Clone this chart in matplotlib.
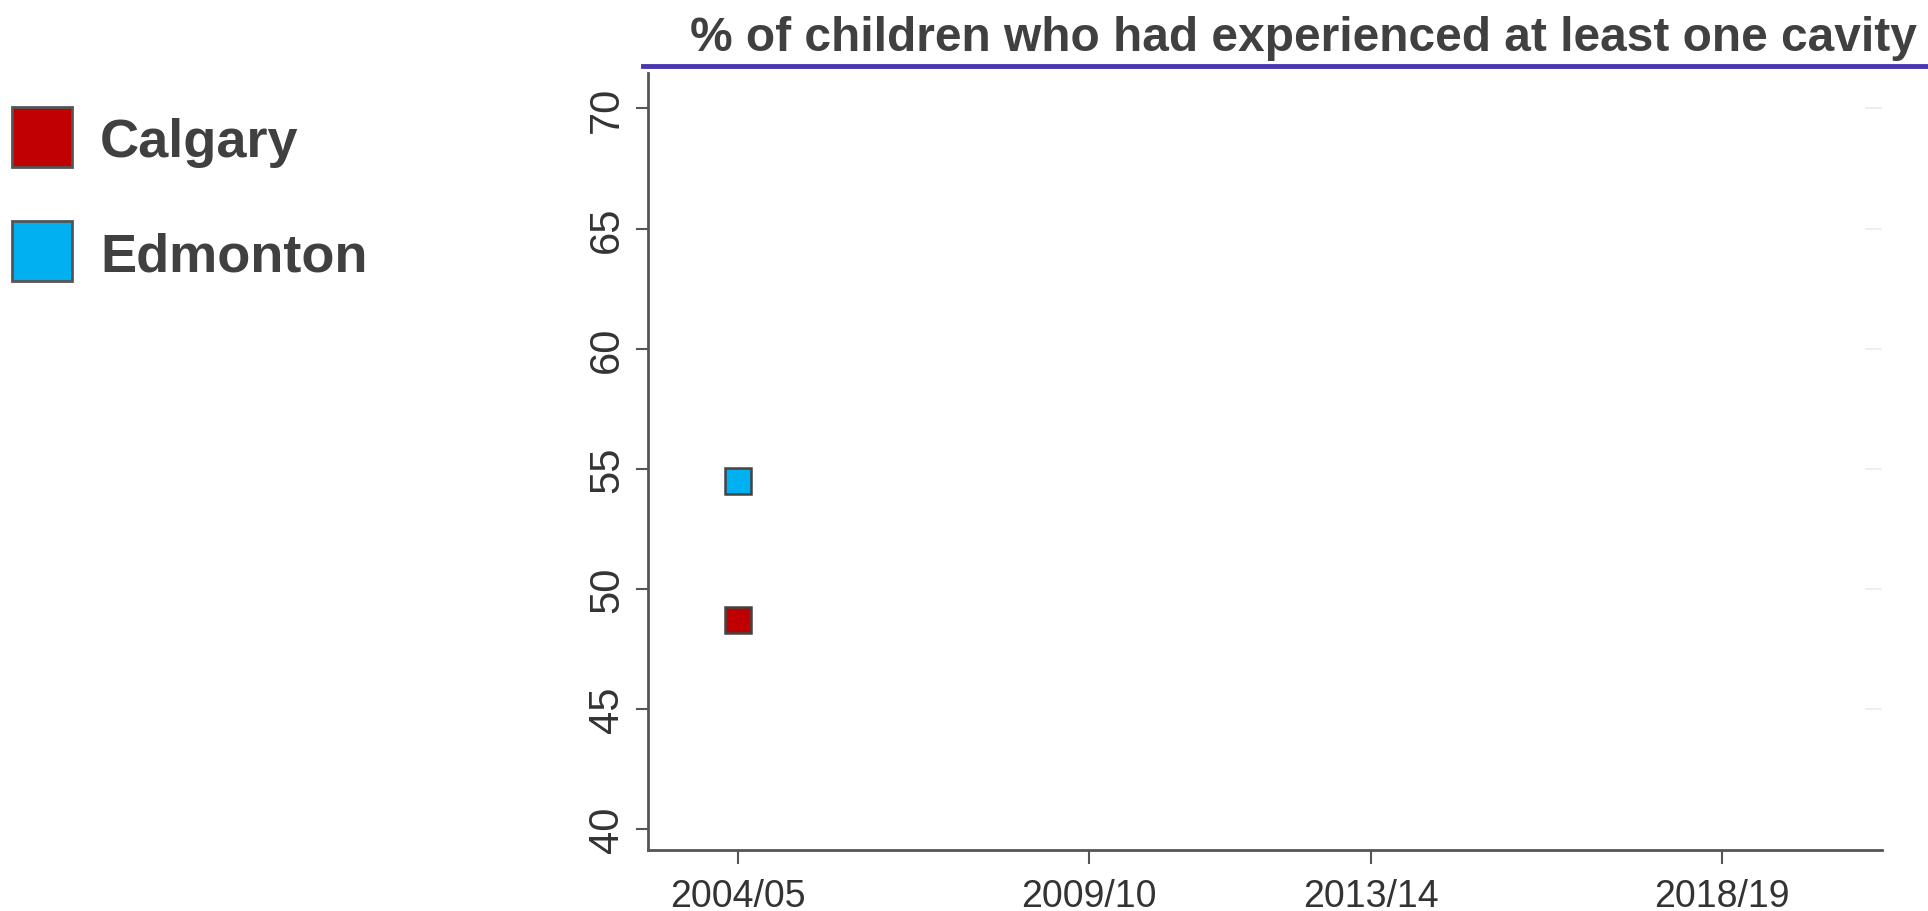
import matplotlib.pyplot as plt
from matplotlib.lines import Line2D

years = ['2004/05', '2009/10', '2013/14', '2018/19']
year_pos = [2004, 2009, 2013, 2018]

cities = ['Calgary', 'Edmonton']
city_colors = ['#C00000', '#00B0F0']
city_x = [[2004], [2004]]
city_pct = [[48.7], [54.5]]

plt.rcParams['font.family'] = ['Liberation Sans', 'DejaVu Sans']

fig = plt.figure(figsize=(19.28, 9.12), dpi=100)
ax = fig.add_axes([0.336, 0.067, 0.64, 0.852])

for name, col, xs, ys in zip(cities, city_colors, city_x, city_pct):
    ax.plot(xs, ys, 's', ms=19, mfc=col, mec='#444444', mew=1.8, label=name)

ax.set_xlim(2002.72, 2020.27)
ax.set_ylim(39.13, 71.48)
ax.set_xticks(year_pos)
ax.set_xticklabels(years)
ax.set_yticks([40, 45, 50, 55, 60, 65, 70])
ax.tick_params(axis='x', labelsize=27, colors='#555555', labelcolor='#333333', length=10, width=1.5, pad=10)
ax.tick_params(axis='y', labelsize=30, colors='#555555', labelcolor='#333333', length=9, width=1.5, pad=6)
for lab in ax.get_yticklabels():
    lab.set_rotation(90)
    lab.set_va('center')
for s in ['top', 'right']:
    ax.spines[s].set_visible(False)
for s in ['left', 'bottom']:
    ax.spines[s].set_color('#555555')
    ax.spines[s].set_linewidth(2)

# faint ticks on the right side
ax2 = ax.twinx()
ax2.set_ylim(ax.get_ylim())
ax2.set_yticks([45, 50, 55, 60, 65, 70])
ax2.tick_params(axis='y', direction='in', length=12, width=1.5, colors='#eeeeee', labelright=False)
for s in ax2.spines.values():
    s.set_visible(False)

# title with coloured rule underneath
fig.text(0.676, 0.958, '% of children who had experienced at least one cavity',
         ha='center', va='center', fontsize=34.5, fontweight='bold', color='#404040')
fig.add_artist(Line2D([0.3335, 1.0], [0.927, 0.927], color='#4B35B0', lw=3.5))

# legend on the left
handles = [Line2D([], [], ls='none', marker='s', ms=43, mfc=c, mec='#555555', mew=2)
           for c in city_colors]
fig.legend(handles, cities, loc='upper left', bbox_to_anchor=(0.0, 0.882), frameon=False,
           prop={'size': 39, 'weight': 'bold'}, labelcolor='#404040',
           handlelength=1.15, handletextpad=0.5, labelspacing=1.18, borderpad=0.2,
           borderaxespad=0)

fig.savefig('out.png', dpi=100)
